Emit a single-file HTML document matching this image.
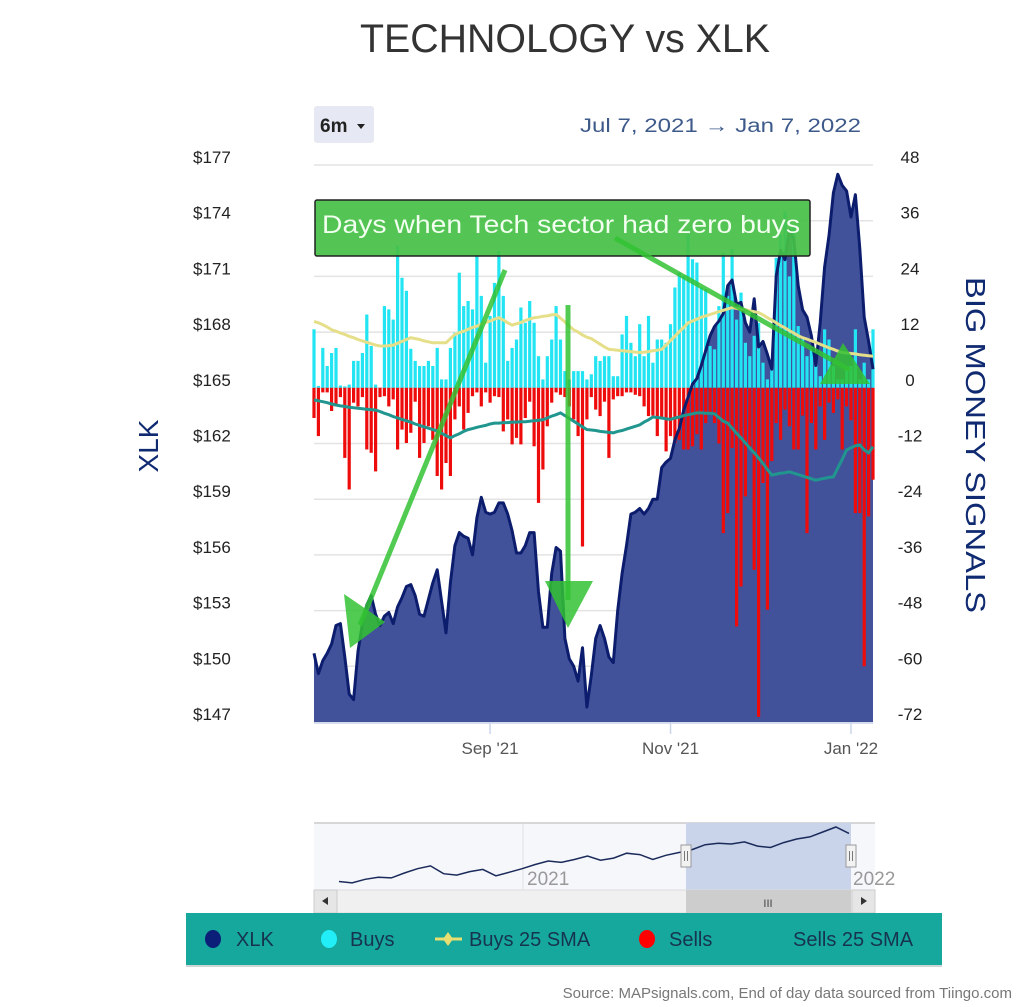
<!DOCTYPE html>
<html><head><meta charset="utf-8">
<style>
html,body{margin:0;padding:0;background:#fff;}
body{width:1024px;height:1007px;overflow:hidden;position:relative;font-family:"Liberation Sans",sans-serif;}
svg{position:absolute;left:0;top:0;}
</style></head>
<body>
<svg id="chart" width="1024" height="1007" viewBox="0 0 1024 1007" xmlns="http://www.w3.org/2000/svg">
  <text x="565" y="52" text-anchor="middle" font-size="40" fill="#333" font-family="Liberation Sans, sans-serif" textLength="410" lengthAdjust="spacingAndGlyphs">TECHNOLOGY vs XLK</text>
  <g>
    <rect x="314" y="106" width="60" height="37" rx="3" fill="#e6e9f3"/>
    <text x="320" y="132" font-size="19" font-weight="bold" fill="#222">6m</text>
    <path d="M357 124 L365 124 L361 129 Z" fill="#222"/>
  </g>
  <text x="861" y="132" text-anchor="end" font-size="19" fill="#3d5a8a" textLength="281" lengthAdjust="spacingAndGlyphs">Jul 7, 2021   →  Jan 7, 2022</text>
  <g id="grid"></g>
  <g id="leftTicks"></g>
  <g id="rightTicks"></g>
  <g id="plot"></g>
  <text transform="translate(158,446) rotate(-90)" text-anchor="middle" font-size="28" fill="#102a72">XLK</text>
  <text transform="translate(966,445) rotate(90)" text-anchor="middle" font-size="28" fill="#102a72" textLength="336" lengthAdjust="spacingAndGlyphs">BIG MONEY SIGNALS</text>
  <g id="xTicks"></g>
  <g id="annot"></g>
  <g id="nav"></g>
  <g>
    <rect x="186" y="913" width="756" height="52" fill="#16a89c"/>
    <rect x="186" y="965" width="756" height="2" fill="#cfd6d6"/>
    <g><ellipse cx="213" cy="939" rx="8" ry="9" fill="#0c1f78"/><text x="236" y="946" font-size="20" fill="#16344d">XLK</text></g>
    <g><ellipse cx="329" cy="939" rx="8" ry="9" fill="#22eef8"/><text x="350" y="946" font-size="20" fill="#16344d">Buys</text></g>
    <g><line x1="435" y1="939" x2="462" y2="939" stroke="#e8df70" stroke-width="3"/><path d="M448 932 L453 939 L448 946 L443 939Z" fill="#e8df70"/><text x="469" y="946" font-size="20" fill="#16344d">Buys 25 SMA</text></g>
    <g><ellipse cx="647" cy="939" rx="8" ry="9" fill="#f00"/><text x="669" y="946" font-size="20" fill="#16344d">Sells</text></g>
    <g><text x="793" y="946" font-size="20" fill="#16344d">Sells 25 SMA</text></g>
  </g>
  <text x="1012" y="998" text-anchor="end" font-size="15" fill="#777">Source: MAPsignals.com, End of day data sourced from Tiingo.com</text>
</svg>
<script>
const dates = ["2021-07-07","2022-01-07"];
const xlk = [150.7,149.6,150.3,150.7,151.2,152.2,152.3,150.5,148.5,148.2,150.8,152.3,153.3,153.8,152.8,152.2,152.7,152.9,152.3,153.2,153.7,154.3,154.4,153.8,152.8,152.7,153.6,154.5,155.2,153.5,151.8,154.5,156.5,157.2,157,156.9,156,158,159.1,158.3,158.2,158.3,158.8,158.8,158.2,157.3,156.1,156.1,156.5,157.2,157.2,154,152.1,152.1,155,156.4,156.2,151.5,150.4,150,149.2,151,147.8,149.5,151.5,152.2,151.5,150.5,150.2,153,155,156.5,158.2,158.3,158.5,158.2,158.5,159,159,160.7,161,161.2,162.2,162.8,163.8,164.5,165.2,165.5,166.2,167,167.8,168.3,168.6,169,170.5,170.8,169.5,169.6,168.5,168,169.8,167.2,167.5,166.8,166,171,172.4,171.9,173.5,173,170.5,169.2,168.8,167.8,166.2,168.5,171.5,173.2,175.5,176.5,175.9,175.6,174.2,175.4,172.5,168.8,167.5,166];
const buys = [12.6,0.4,8.6,4.7,7.5,8.6,0.5,0.3,0.7,5.8,5.8,7.5,15.8,9,0.7,0,17.6,16.9,14.7,30.6,23.7,20.9,8.4,5.8,4.7,4.7,5.8,4.7,8.6,1.8,1.8,8.6,11.9,24.8,17.6,18.7,16.9,28.4,19.8,5.4,15.5,22.6,29.5,19.8,5.8,8.6,10.4,17.3,14,18.7,14,6.8,1.8,6.8,10.4,17.6,10.4,3.6,1.8,3.6,3.6,3.6,1.8,2.9,6.8,5.8,6.8,6.8,2.5,2.5,11.5,15.5,9.7,6.8,13.7,6.8,15.5,5.4,10.4,10.4,9.7,13.7,21.6,24.8,24.1,33,27.7,27,21.6,21.2,9,8.3,17.6,29.1,19.8,29.9,14.7,20.5,9.7,6.8,11.2,14,5.4,1.8,5.4,28,33,38,24,35,13.3,10.4,6.8,8.3,6.1,2.5,12.6,10.4,4.7,1.8,1.8,4,4.7,12.6,1.8,5.4,1.8,12.6];
const sells = [6.5,10.4,1,1,5,4,2,15.1,21.9,3.2,4,2,13.3,14,18,2,1.8,4,2.5,13.3,9,11.9,9.7,3,15.1,11.9,8.3,11.2,19,21.9,16.2,19,6.8,4,9,5.4,1.8,1,4,1,3.2,1.8,2,9.4,6.8,12.2,10.8,12.2,6.5,3,12.6,24.8,17.6,8.3,3.2,1,1.5,2,4,6.8,10.4,34.2,6.8,2,4.7,6.1,3,15.1,2.5,1.8,1.8,1,1,1.5,1.8,4,6.1,6,10.4,6.8,13.7,10.4,11.9,11.2,13.3,13.3,12.6,10,13.3,7.6,5.4,7.6,12,31.3,27,13,51.4,42.8,23.4,12.6,39.2,70.9,20.5,47.8,15.8,7.6,11.2,4.7,8.3,13.3,13.3,6,31.3,7.6,13.3,4,11.2,3.2,5.4,2.5,13.3,4,7,27,27,60,27.7,19.8];
const buysSma = [14.3,14,13.6,13.1,12.5,12.2,11.8,11.5,11.1,10.8,10.4,10.1,9.8,9.5,9.2,9,9,9.1,9.2,9.6,10,10.4,10.8,10.6,10.4,10.1,9.9,9.7,9.7,9.7,9.7,10.6,11.5,11.9,12.2,12.6,13,13.3,13.7,14.1,14.4,14.8,15.1,14.6,14,13.5,13.8,14.1,14.5,14.8,15.1,15.2,15.4,15.5,15.7,15.8,15,14.2,13.3,12.5,12,11.4,10.9,10.6,10,9.4,8.8,8.3,8.2,8.1,8,7.9,7.8,7.7,7.6,7.7,7.8,8,8.1,8.3,9.2,10.2,11.1,12.1,13,14,14.4,14.8,15.2,15.5,15.8,16.1,16.4,16.7,17,17.3,17.1,16.9,16.8,16.6,16.4,16.2,15.7,15.1,14.6,14,13.4,12.9,12.3,11.8,11.2,10.8,10.5,10.1,9.8,9.4,9,8.6,8.3,7.9,7.6,7.5,7.4,7.3,7.1,7,6.9,6.8];
const sellsSma = [2.6,2.8,3,3.2,3.5,3.7,3.9,4,4.2,4.3,4.4,4.5,4.6,4.7,4.8,5.1,5.5,5.8,6.2,6.5,6.8,7.1,7.4,7.8,8.1,8.4,8.7,9,9.3,9.8,10.3,10.8,10.3,9.9,9.4,9,8.8,8.5,8.3,8.1,7.8,7.6,7.6,7.5,7.5,7.4,7.4,7.3,7.3,7.2,7.1,7,6.9,6.5,6.1,5.8,5.4,6,6.6,7.2,7.8,8.4,9,9.1,9.2,9.4,9.5,9.6,9.7,9.4,9.2,8.9,8.6,8.3,8,7.4,6.9,6.3,6.4,6.5,6.7,6.8,6.5,6.3,6,5.8,5.6,5.4,5.4,5.5,5.5,5.6,6.4,7.2,7.6,8.7,9.8,10.8,11.9,13,14,15.1,16.3,17.6,18.8,18.6,18.4,18.3,18.1,18.4,18.7,19,19.3,19.6,19.9,19.7,19.5,19.3,19.2,17.3,15.4,13.4,12.9,12.5,12.3,13.4,14,12.7];
const leftTickLabels = ["$177","$174","$171","$168","$165","$162","$159","$156","$153","$150","$147"];
const leftTickValues = [177,174,171,168,165,162,159,156,153,150,147];
const rightTickValues = [48,36,24,12,0,-12,-24,-36,-48,-60,-72];
const xTickLabels = ["Sep '21","Nov '21","Jan '22"];
const xTickIndex = [40,81,122];
const navVals = [100,98,103,106,105,112,118,122,111,109,114,117,108,113,118,124,129,127,131,136,130,133,140,138,131,137,141,145,152,154,153,156,150,148,155,160,163,170,177,168];

const NS = "http://www.w3.org/2000/svg";
const X0 = 314, X1 = 873, YT = 165, YB = 722;
const N = xlk.length;
function xs(i){ return X0 + i*(X1-X0)/(N-1); }
function yL(p){ return YT + (177-p)*(YB-YT)/30; }
function yR(v){ return YT + (48-v)*(YB-YT)/120; }
function mk(tag, attrs, parent){ const e=document.createElementNS(NS,tag); for(const k in attrs) e.setAttribute(k,attrs[k]); parent.appendChild(e); return e; }

const grid=document.getElementById('grid'), lt=document.getElementById('leftTicks'), rt=document.getElementById('rightTicks');
leftTickValues.forEach((v,k)=>{
  const y=yL(v);
  const g=mk('line',{x1:X0,x2:X1,y1:y,y2:y,stroke:'#e3e3e3','stroke-width':1.5},grid);
  
  
  const t=mk('text',{x:193,y:y-2,'font-size':17,fill:'#222'},lt);
  t.textContent=leftTickLabels[k];
  
  
});
rightTickValues.forEach(v=>{
  const t=mk('text',{x:910,y:yR(v)-2,'font-size':17,fill:'#222','text-anchor':'middle'},rt);
  t.textContent=String(v);
  
  
});

const plot=document.getElementById('plot');
let d='M'+xs(0)+' '+YB;
for(let i=0;i<N;i++) d+=' L'+xs(i).toFixed(1)+' '+yL(xlk[i]).toFixed(1);
d+=' L'+xs(N-1)+' '+YB+' Z';
const area=mk('path',{d:d,fill:'#42529a'},plot);


const z=yR(0);
for(let i=0;i<N;i++){
  const hb=z-yR(buys[i]);
  const b=mk('rect',{x:(xs(i)-1.6).toFixed(1),y:(z-hb).toFixed(1),width:3.2,height:hb.toFixed(1),fill:'#22e4f2'},plot);
  
  
  const hs=yR(-sells[i])-z;
  const s=mk('rect',{x:(xs(i)-1.6).toFixed(1),y:z.toFixed(1),width:3.2,height:hs.toFixed(1),fill:'#ee0b0b'},plot);
  
  
}
function linePath(arr,f){ let p=''; arr.forEach((v,i)=>{p+=(i?' L':'M')+xs(i).toFixed(1)+' '+f(v).toFixed(1);}); return p; }
const xl=mk('path',{d:linePath(xlk,yL),fill:'none',stroke:'#0c1d6e','stroke-width':3,'stroke-linejoin':'round'},plot);


const bs=mk('path',{d:linePath(buysSma,yR),fill:'none',stroke:'#e6df8a','stroke-width':3},plot);


const ss=mk('path',{d:linePath(sellsSma.map(v=>-v),yR),fill:'none',stroke:'#21968f','stroke-width':3},plot);



const xt=document.getElementById('xTicks');
mk('line',{x1:X0,x2:X1,y1:YB+1,y2:YB+1,stroke:'#ccd6eb','stroke-width':1.5},xt);
xTickIndex.forEach((idx,k)=>{
  const x=xs(idx);
  mk('line',{x1:x,x2:x,y1:YB,y2:YB+12,stroke:'#ccd6eb','stroke-width':1.5},xt);
  const t=mk('text',{x:x,y:754,'text-anchor':'middle','font-size':17,fill:'#555'},xt);
  t.textContent=xTickLabels[k];
  
  
});

// annotation
const an=document.getElementById('annot');
const gc='#33c233';
const box=mk('rect',{x:315,y:200,width:495,height:56,rx:2,fill:'#45c045','fill-opacity':0.92,stroke:'#222','stroke-width':1.5},an);


const at=mk('text',{x:322,y:233,'font-size':25,fill:'#f2fff0',textLength:478,lengthAdjust:'spacingAndGlyphs'},an);
at.textContent='Days when Tech sector had zero buys';


[[505,270,360,625],[568,305,568,600],[615,238,850,370]].forEach(a=>{
  const l=mk('line',{x1:a[0],y1:a[1],x2:a[2],y2:a[3],stroke:gc,'stroke-width':5,'stroke-opacity':0.85},an);
  
  
});
[['M344 594 L385 622 L350 648 Z'],['M545 581 L593 581 L568 628 Z'],['M820 384 L870 384 L843 343 Z']].forEach(p=>{
  const h=mk('path',{d:p[0],fill:gc,'fill-opacity':0.85},an);
  
  
});

// navigator
const nav=document.getElementById('nav');
mk('rect',{x:314,y:823,width:561,height:67,fill:'#f6f7fb'},nav);
mk('line',{x1:314,x2:875,y1:823,y2:823,stroke:'#cccccc','stroke-width':1.5},nav);
mk('line',{x1:523,x2:523,y1:823,y2:890,stroke:'#e0e0e0','stroke-width':1},nav);
const sel=mk('rect',{x:686,y:823,width:165,height:67,fill:'#c9d3ea'},nav);


let nd='';
navVals.forEach((v,i)=>{ const x=339+i*(849-339)/(navVals.length-1); const y=885-(v-95)*(58/82); nd+=(i?' L':'M')+x.toFixed(1)+' '+y.toFixed(1); });
mk('path',{d:nd,fill:'none',stroke:'#1a2a5a','stroke-width':1.5},nav);
const y21=mk('text',{x:527,y:885,'font-size':19,fill:'#999'},nav); y21.textContent='2021';
const y22=mk('text',{x:853,y:885,'font-size':19,fill:'#999'},nav); y22.textContent='2022';
[686,851].forEach(x=>{
  const h=mk('rect',{x:x-5,y:845,width:10,height:22,fill:'#f2f2f2',stroke:'#999','stroke-width':1},nav);
  
  
  mk('line',{x1:x-1.5,x2:x-1.5,y1:851,y2:861,stroke:'#777'},nav);
  mk('line',{x1:x+1.5,x2:x+1.5,y1:851,y2:861,stroke:'#777'},nav);
});
const sb=mk('rect',{x:314,y:890,width:561,height:23,fill:'#f0f0f0',stroke:'#ddd'},nav);


const th=mk('rect',{x:686,y:890,width:165,height:23,fill:'#cdcdcd'},nav);


const tt=mk('text',{x:768,y:907,'text-anchor':'middle','font-size':11,fill:'#444'},nav); tt.textContent='III';
mk('rect',{x:314,y:890,width:23,height:23,fill:'#e6e6e6',stroke:'#ccc'},nav);
mk('path',{d:'M322 901 L328 897 L328 905 Z',fill:'#333'},nav);
mk('rect',{x:852,y:890,width:23,height:23,fill:'#e6e6e6',stroke:'#ccc'},nav);
mk('path',{d:'M867 901 L861 897 L861 905 Z',fill:'#333'},nav);
</script>
</body></html>
